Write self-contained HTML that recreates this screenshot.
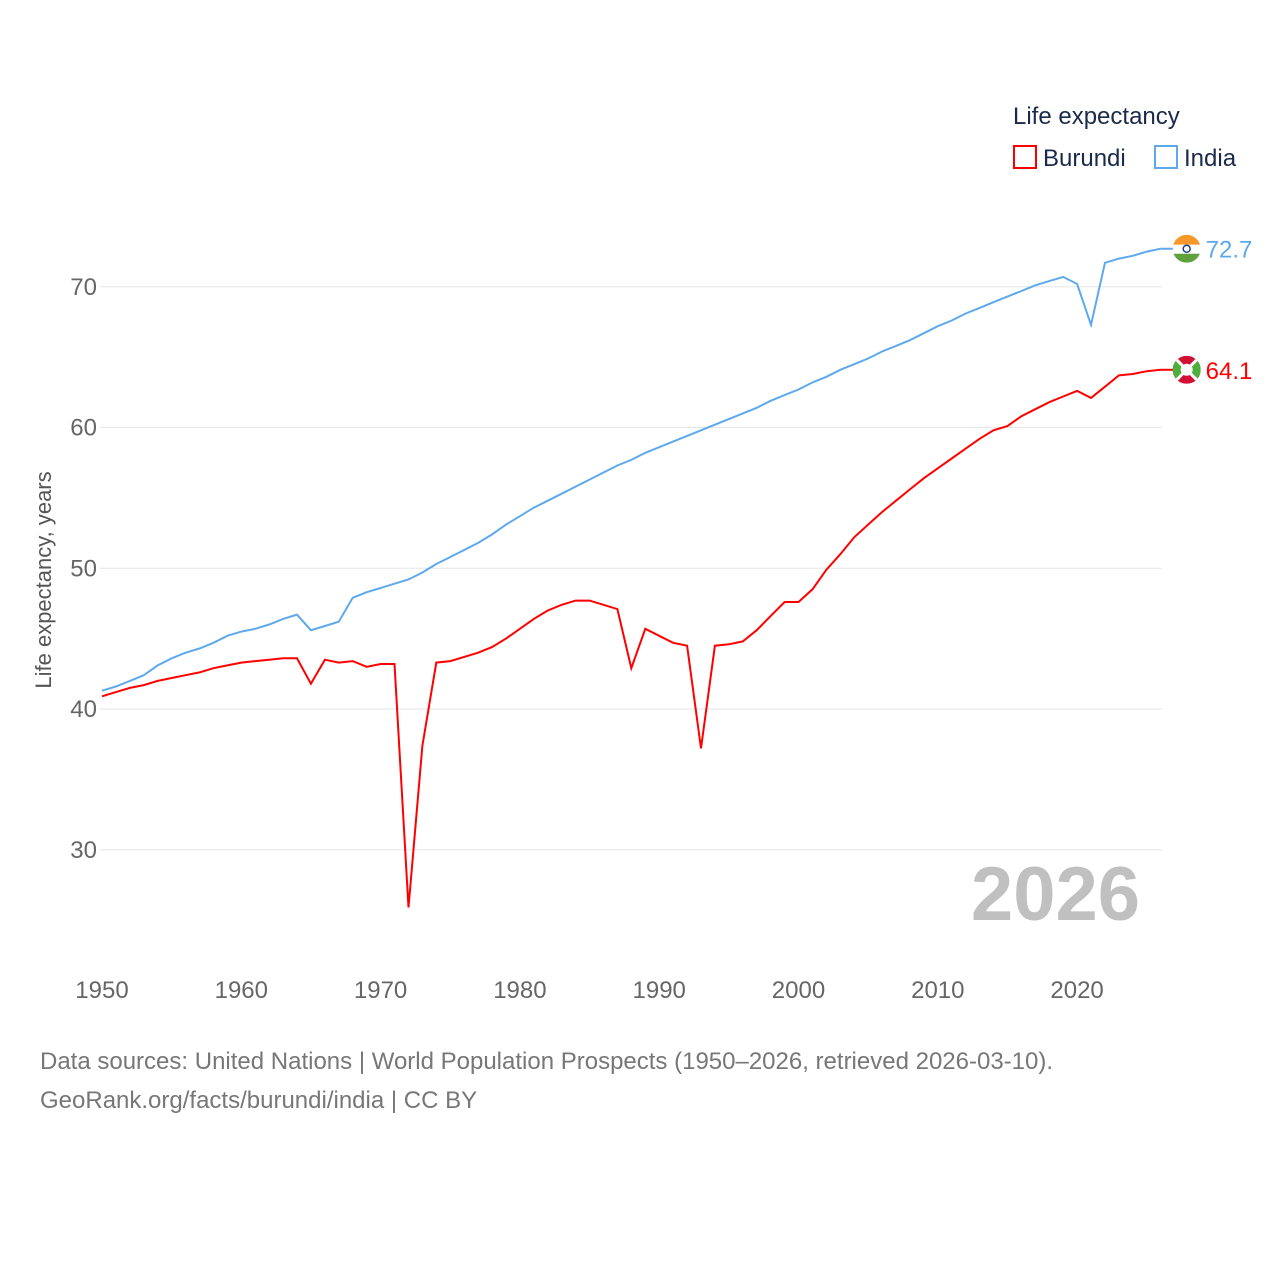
<!DOCTYPE html>
<html><head><meta charset="utf-8"><style>
body{margin:0;background:#fff;font-family:"Liberation Sans",sans-serif}
svg text{font-family:"Liberation Sans",sans-serif}
</style></head><body>
<svg width="1280" height="1280" viewBox="0 0 1280 1280" id="chart">
<defs id="defs"></defs>
<text x="1013" y="124" font-size="24" fill="#1b2a4a">Life expectancy</text>
<g><rect x="1014" y="146" width="22" height="22" fill="none" stroke="#f00" stroke-width="2"/><text x="1043" y="166" font-size="24" fill="#1b2a4a">Burundi</text></g>
<g><rect x="1155" y="146" width="22" height="22" fill="none" stroke="#5ea9ec" stroke-width="2"/><text x="1184" y="166" font-size="24" fill="#1b2a4a">India</text></g>
<g id="grid"></g><g id="xt"></g><g id="lines"></g>
<text transform="translate(51,580) rotate(-90)" text-anchor="middle" font-size="22" fill="#555">Life expectancy, years</text>
<text x="1140" y="920" text-anchor="end" font-size="76" font-weight="bold" fill="#c0c0c0">2026</text>
<text x="40" y="1069" font-size="24" fill="#777">Data sources: United Nations | World Population Prospects (1950–2026, retrieved 2026-03-10).</text>
<text x="40" y="1108" font-size="24" fill="#777">GeoRank.org/facts/burundi/india | CC BY</text>
</svg>
<script>
const years=[];for(let y=1950;y<=2026;y++)years.push(y);
const india=[41.3,41.6,42.0,42.4,43.1,43.6,44.0,44.3,44.7,45.2,45.5,45.7,46.0,46.4,46.7,45.6,45.9,46.2,47.9,48.3,48.6,48.9,49.2,49.7,50.3,50.8,51.3,51.8,52.4,53.1,53.7,54.3,54.8,55.3,55.8,56.3,56.8,57.3,57.7,58.2,58.6,59.0,59.4,59.8,60.2,60.6,61.0,61.4,61.9,62.3,62.7,63.2,63.6,64.1,64.5,64.9,65.4,65.8,66.2,66.7,67.2,67.6,68.1,68.5,68.9,69.3,69.7,70.1,70.4,70.7,70.2,67.3,71.7,72.0,72.2,72.5,72.7];
const burundi=[40.9,41.2,41.5,41.7,42.0,42.2,42.4,42.6,42.9,43.1,43.3,43.4,43.5,43.6,43.6,41.8,43.5,43.3,43.4,43.0,43.2,43.2,25.9,37.4,43.3,43.4,43.7,44.0,44.4,45.0,45.7,46.4,47.0,47.4,47.7,47.7,47.4,47.1,42.9,45.7,45.2,44.7,44.5,37.2,44.5,44.6,44.8,45.6,46.6,47.6,47.6,48.5,49.9,51.0,52.2,53.1,54.0,54.8,55.6,56.4,57.1,57.8,58.5,59.2,59.8,60.1,60.8,61.3,61.8,62.2,62.6,62.1,62.9,63.7,63.8,64.0,64.1];
const yTicks=[30,40,50,60,70];
const xTicks=[1950,1960,1970,1980,1990,2000,2010,2020];
const X=y=>102+(y-1950)*13.93, Y=v=>709-(v-40)*14.075;
const NS="http://www.w3.org/2000/svg";
function mk(t,a,p){const e=document.createElementNS(NS,t);for(const k in a)e.setAttribute(k,a[k]);p.appendChild(e);return e;}
const g=document.getElementById('grid');
yTicks.forEach(v=>{
const l=mk('line',{x1:100,x2:1162,y1:Y(v),y2:Y(v),stroke:'#e6e6e6','stroke-width':1},g);


const t=mk('text',{x:97,y:Y(v)+8,'text-anchor':'end','font-size':24,fill:'#666'},g);t.textContent=v;


});
const xg=document.getElementById('xt');
xTicks.forEach(v=>{const t=mk('text',{x:X(v),y:998,'text-anchor':'middle','font-size':24,fill:'#666'},xg);t.textContent=v;

});
const lg=document.getElementById('lines');
const defs=document.getElementById('defs');
function series(d,c,name,flag){
const p=mk('path',{d:d.map((v,i)=>(i?'L':'M')+X(years[i]).toFixed(1)+','+Y(v).toFixed(1)).join(''),fill:'none',stroke:c,'stroke-width':2},lg);


const last=d[d.length-1],x=X(years[years.length-1]),cy=Y(last),cx=x+26;
mk('line',{x1:x,x2:x+14,y1:cy,y2:cy,stroke:c,'stroke-width':2},lg);
const cp=mk('clipPath',{id:'clip-'+name},defs);
mk('circle',{cx:cx,cy:cy,r:14},cp);
const f=mk('g',{'clip-path':'url(#clip-'+name+')'},lg);


if(flag==='in'){
mk('rect',{x:cx-14,y:cy-14,width:28,height:10,fill:'#f7982a'},f);
mk('rect',{x:cx-14,y:cy-4,width:28,height:9,fill:'#fff'},f);
mk('rect',{x:cx-14,y:cy+5,width:28,height:9,fill:'#5fa13c'},f);
mk('circle',{cx:cx,cy:cy,r:3.5,fill:'none',stroke:'#1a3d8f','stroke-width':1.5},f);
}else{
mk('rect',{x:cx-14,y:cy-14,width:28,height:28,fill:'#d21034'},f);
mk('path',{d:`M${cx-14},${cy-12}L${cx-14},${cy+12}L${cx},${cy}Z M${cx+14},${cy-12}L${cx+14},${cy+12}L${cx},${cy}Z`,fill:'#4caf3c'},f);
mk('line',{x1:cx-14,y1:cy-14,x2:cx+14,y2:cy+14,stroke:'#fff','stroke-width':3},f);
mk('line',{x1:cx+14,y1:cy-14,x2:cx-14,y2:cy+14,stroke:'#fff','stroke-width':3},f);
mk('circle',{cx:cx,cy:cy,r:6,fill:'#fff'},f);
}
const t=mk('text',{x:x+45,y:cy+9,'font-size':24,fill:c},lg);t.textContent=last.toFixed(1);


}
series(india,'#5ea9ec','india','in');
series(burundi,'#f00','burundi','bi');
</script>
</body></html>
